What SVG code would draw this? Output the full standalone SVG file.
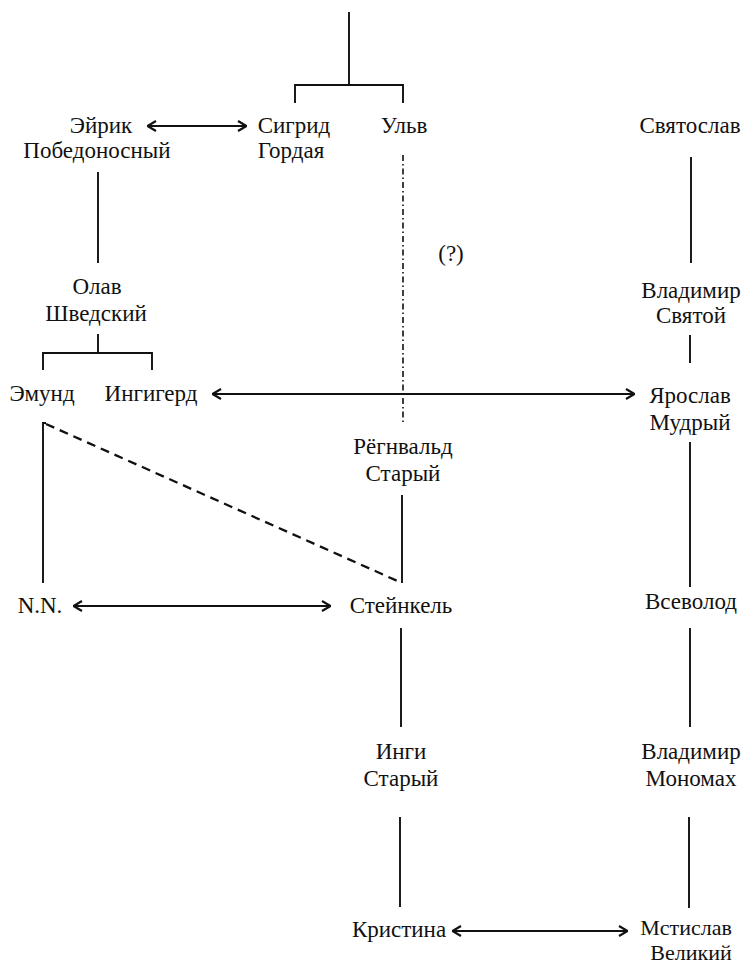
<svg xmlns="http://www.w3.org/2000/svg" width="746" height="966" viewBox="0 0 746 966">
<style>
text{font-family:"Liberation Serif","DejaVu Serif",serif;font-size:23px;fill:#111;text-anchor:middle}
.sm{font-size:22px}
.ln{stroke:#111;stroke-width:1.9;fill:none}
.ar{stroke:#111;stroke-width:1.9;fill:none;marker-start:url(#ah);marker-end:url(#ah)}
.dd{stroke:#111;stroke-width:1.6;fill:none;stroke-dasharray:6 3 1.5 3}
.ds{stroke:#111;stroke-width:2.3;fill:none;stroke-dasharray:9 6}
</style>
<defs>
<marker id="ah" viewBox="0 0 10 12" refX="10" refY="6" markerWidth="10" markerHeight="12" markerUnits="userSpaceOnUse" orient="auto-start-reverse">
<path d="M1,1 L9.5,6 L1,11" fill="none" stroke="#111" stroke-width="2.1"/>
</marker>
</defs>
<rect width="746" height="966" fill="#fff"/>
<g id="connectors">
<path class="ln" d="M349,12 V85 M295,103 V85 H403 V103"/>
<path class="ar" d="M147,126 H247"/>
<path class="ln" d="M98,172 V263"/>
<path class="dd" d="M403,155 V423"/>
<path class="ln" d="M98,334 V353 M43,370 V353 H152 V370"/>
<path class="ar" d="M212,394 H635"/>
<path class="ln" d="M43,583 V423 H46"/>
<path class="ds" d="M46,424 L402,583"/>
<path class="ln" d="M402,495 V583"/>
<path class="ar" d="M73,606 H331"/>
<path class="ln" d="M691,157 V263"/>
<path class="ln" d="M690,335 V363"/>
<path class="ln" d="M690,442 V587"/>
<path class="ln" d="M401,628 V727"/>
<path class="ln" d="M690,628 V727"/>
<path class="ln" d="M400,817 V907"/>
<path class="ln" d="M689,817 V908"/>
<path class="ar" d="M452,931 H628"/>
</g>
<g id="eirik"><text x="101" y="133">Эйрик</text><text x="97" y="158">Победоносный</text></g>
<g id="sigrid"><text x="294" y="133">Сигрид</text><text x="291" y="158">Гордая</text></g>
<g id="ulv"><text x="404" y="133">Ульв</text></g>
<g id="question"><text x="451" y="261">(?)</text></g>
<g id="svyatoslav"><text x="690" y="133">Святослав</text></g>
<g id="olav"><text x="97" y="294">Олав</text><text x="96" y="321">Шведский</text></g>
<g id="vladimir-svyatoy"><text x="691" y="298">Владимир</text><text x="691" y="323">Святой</text></g>
<g id="emund"><text x="42" y="401">Эмунд</text></g>
<g id="ingigerd"><text x="151" y="401">Ингигерд</text></g>
<g id="yaroslav"><text x="690" y="403">Ярослав</text><text x="690" y="430">Мудрый</text></g>
<g id="regnvald"><text x="403" y="454">Рёгнвальд</text><text x="403" y="481">Старый</text></g>
<g id="nn"><text x="40" y="613">N.N.</text></g>
<g id="steinkel"><text x="401" y="613">Стейнкель</text></g>
<g id="vsevolod"><text x="691" y="609">Всеволод</text></g>
<g id="ingi"><text x="401" y="759">Инги</text><text x="401" y="786">Старый</text></g>
<g id="monomakh"><text x="691" y="759">Владимир</text><text x="691" y="786">Мономах</text></g>
<g id="kristina"><text x="399" y="937">Кристина</text></g>
<g id="mstislav"><text class="sm" x="686" y="935">Мстислав</text><text class="sm" x="691" y="960">Великий</text></g>
</svg>
